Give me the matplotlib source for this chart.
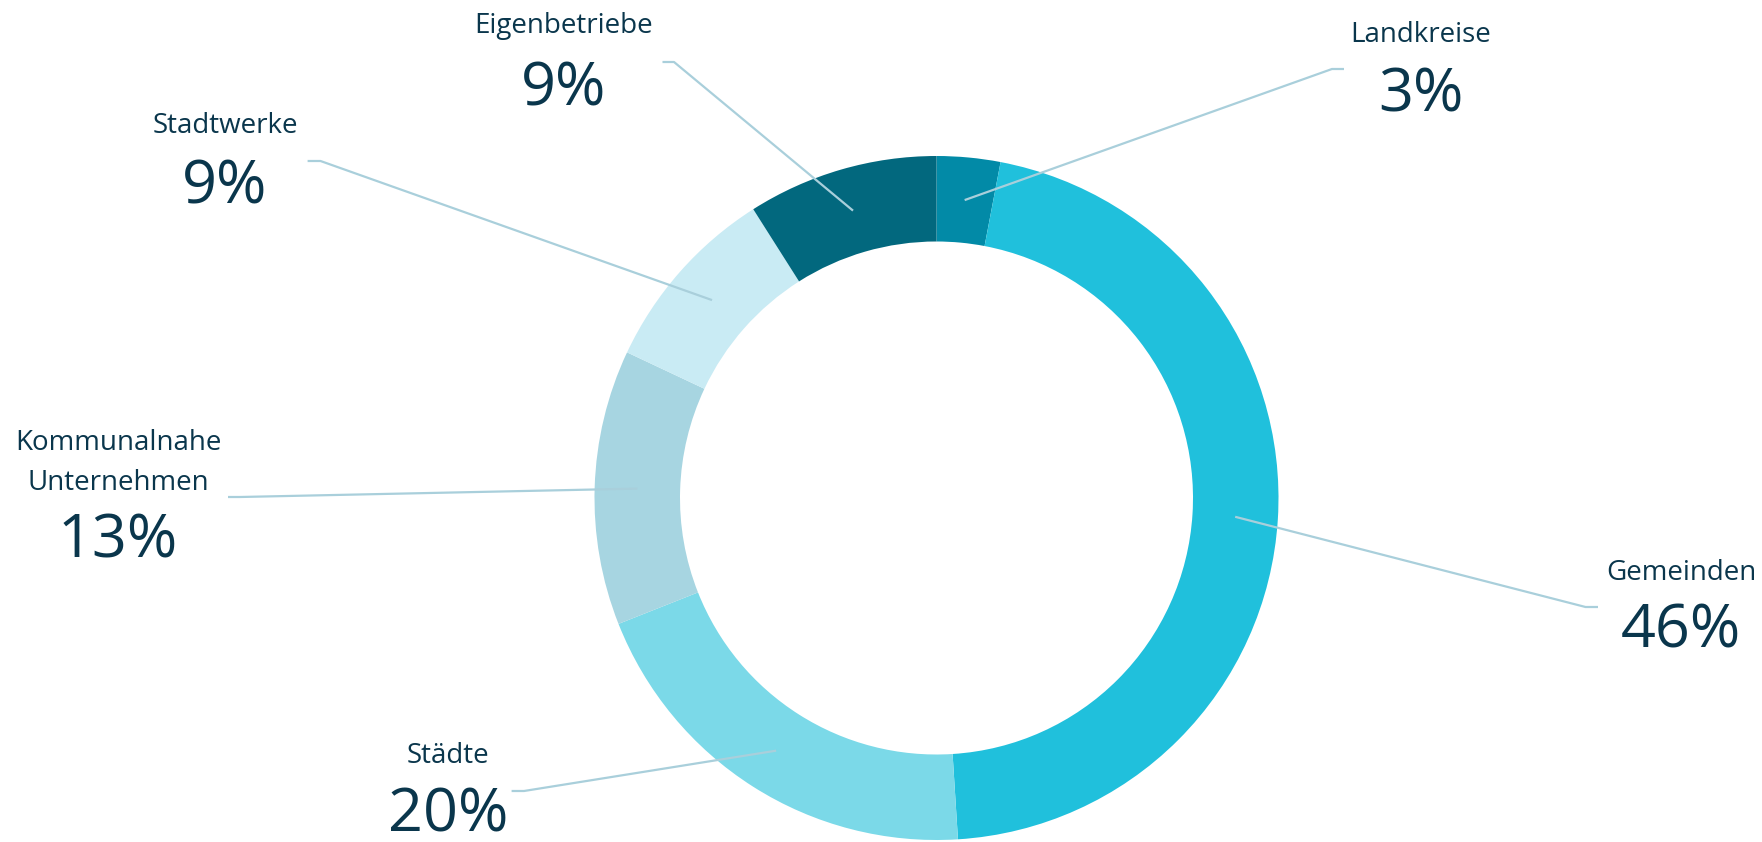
import numpy as np
import matplotlib
matplotlib.use("Agg")
import matplotlib.pyplot as plt

# ---- data ----
categories = ["Landkreise", "Gemeinden", "Städte", "Kommunalnahe\nUnternehmen", "Stadtwerke", "Eigenbetriebe"]
values = [3, 46, 20, 13, 9, 9]
pct_labels = ["3%", "46%", "20%", "13%", "9%", "9%"]
colors = ["#028aa7", "#20c0dc", "#7bd9e8", "#a7d5e1", "#c9ebf4", "#02687e"]

W, H = 1762, 842
TEXT = "#0a364c"
LEAD = "#a9cfdb"
plt.rcParams['font.family'] = ['Open Sans', 'DejaVu Sans']

fig = plt.figure(figsize=(W / 100, H / 100), dpi=100)
ax = fig.add_axes([0, 0, 1, 1])

Y = lambda y: H - y  # convert top-down pixel coords to axis coords
cx, cy, R = 936.5, Y(498), 342
ring = 0.25 * R

wedges, _ = ax.pie(values, colors=colors, startangle=90, counterclock=False,
                   center=(cx, cy), radius=R,
                   wedgeprops=dict(width=ring, edgecolor="none", linewidth=0))
ax.set_xlim(0, W)
ax.set_ylim(0, H)
ax.set_aspect('equal')
ax.axis('off')

# label layout: elbow point, end x of the short horizontal, text center x, baselines
layout = [
    dict(elbow=(1332, 69), end=1344, tx=1421, ny=42, py=112),
    dict(elbow=(1585.5, 607), end=1598, tx=1681, ny=580, py=648),
    dict(elbow=(524, 791), end=511.6, tx=448, ny=763, py=832),
    dict(elbow=(240, 497), end=228, tx=118, ny=490, py=558),
    dict(elbow=(320.5, 161), end=307.6, tx=225, ny=133, py=203),
    dict(elbow=(674, 62), end=662.5, tx=564, ny=33, py=105),
]

for w, cat, pct, lay in zip(wedges, categories, pct_labels, layout):
    ang = np.deg2rad((w.theta1 + w.theta2) / 2)
    rm = R - ring / 2
    sx, sy = cx + rm * np.cos(ang), cy + rm * np.sin(ang)
    ex, ey = lay['elbow']
    ax.plot([sx, ex, lay['end']], [sy, Y(ey), Y(ey)], color=LEAD, lw=1.6,
            solid_capstyle='butt', zorder=3)
    lines = cat.split("\n")
    for i, ln in enumerate(lines):
        by = lay['ny'] - (len(lines) - 1 - i) * 40
        ax.text(lay['tx'], Y(by), ln, ha='center', va='baseline',
                fontsize=20, color=TEXT)
    ax.text(lay['tx'], Y(lay['py']), pct, ha='center', va='baseline',
            fontsize=44, color=TEXT)

fig.savefig("out.png", dpi=100, facecolor="white")
